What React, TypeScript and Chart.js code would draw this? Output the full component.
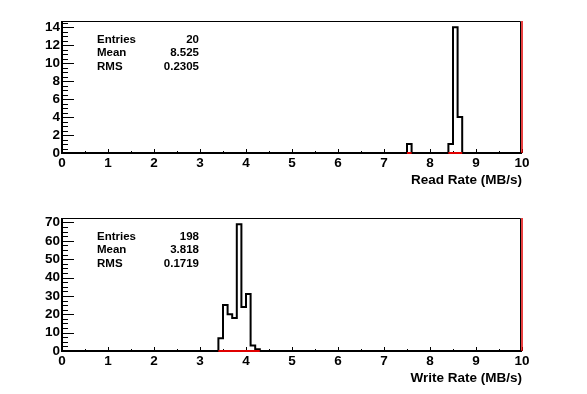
import React, { useEffect, useRef } from "react";
import { Chart, registerables } from "chart.js";

Chart.register(...registerables);

// ---------------- data ----------------
const binWidth = 0.1;
const xMin = 0;
const xMax = 10;
const xTicks = [0, 1, 2, 3, 4, 5, 6, 7, 8, 9, 10];

const readBinLow = [7.5, 8.4, 8.5, 8.6];
const readCounts = [1, 1, 14, 4];
const readYMax = 14.7;
const readYTicks = [0, 2, 4, 6, 8, 10, 12, 14];
const readStatLabels = ["Entries", "Mean", "RMS"];
const readStatValues = ["20", "8.525", "0.2305"];
const readTitle = "Read Rate (MB/s)";

const writeBinLow = [3.4, 3.5, 3.6, 3.7, 3.8, 3.9, 4.0, 4.1, 4.2];
const writeCounts = [7, 25, 20, 18, 69, 24, 31, 3, 1];
const writeYMax = 72.45;
const writeYTicks = [0, 10, 20, 30, 40, 50, 60, 70];
const writeStatLabels = ["Entries", "Mean", "RMS"];
const writeStatValues = ["198", "3.818", "0.1719"];
const writeTitle = "Write Rate (MB/s)";

const FONT = "'Liberation Sans', Arial, Helvetica, sans-serif";

function outline(lows: number[], counts: number[]) {
  const pts: { x: number; y: number }[] = [{ x: xMin, y: 0 }];
  let prevHi = xMin;
  lows.forEach((lo, i) => {
    if (Math.abs(lo - prevHi) > 1e-9) pts.push({ x: prevHi, y: 0 });
    pts.push({ x: lo, y: counts[i] });
    prevHi = lo + binWidth;
  });
  pts.push({ x: prevHi, y: 0 });
  pts.push({ x: xMax, y: 0 });
  return pts;
}

function redBase(lows: number[]) {
  const pts: { x: number; y: number | null }[] = [];
  lows.forEach((lo) => {
    pts.push({ x: lo, y: 0 });
    pts.push({ x: lo + binWidth, y: 0 });
    pts.push({ x: lo + binWidth, y: null });
  });
  return pts;
}

const framePlugin = {
  id: "rootFrame",
  beforeDatasetsDraw(chart: any) {
    const { ctx, chartArea: a, scales } = chart;
    const xs = scales.x;
    const ys = scales.y;
    ctx.save();
    ctx.strokeStyle = "#000";
    // top + right frame
    ctx.lineWidth = 1;
    ctx.beginPath();
    ctx.moveTo(a.left, a.top + 0.5);
    ctx.lineTo(a.right - 1.5, a.top + 0.5);
    ctx.lineTo(a.right - 1.5, a.bottom);
    ctx.stroke();
    // axes
    ctx.lineWidth = 2;
    ctx.beginPath();
    ctx.moveTo(a.left, a.top);
    ctx.lineTo(a.left, a.bottom);
    ctx.lineTo(a.right, a.bottom);
    ctx.stroke();
    // x ticks (inside)
    ctx.lineWidth = 1;
    ctx.beginPath();
    const xticks = xs.ticks.map((t: any) => t.value);
    for (let i = 0; i < xticks.length; i++) {
      const px = Math.round(xs.getPixelForValue(xticks[i])) + 0.5;
      ctx.moveTo(px, a.bottom);
      ctx.lineTo(px, a.bottom - 4);
      if (i < xticks.length - 1) {
        const mid = (xticks[i] + xticks[i + 1]) / 2;
        const pm = Math.round(xs.getPixelForValue(mid)) + 0.5;
        ctx.moveTo(pm, a.bottom);
        ctx.lineTo(pm, a.bottom - 2);
      }
    }
    // y ticks (inside)
    const yticks = ys.ticks.map((t: any) => t.value);
    const step = yticks.length > 1 ? yticks[1] - yticks[0] : 1;
    const minor = step / 4;
    for (let v = 0; v <= ys.max + 1e-9; v += minor) {
      const py = Math.round(ys.getPixelForValue(v)) + 0.5;
      const isMajor = Math.abs(v / step - Math.round(v / step)) < 1e-6;
      ctx.moveTo(a.left, py);
      ctx.lineTo(a.left + (isMajor ? 12 : 6), py);
    }
    ctx.stroke();
    ctx.restore();
  },
  afterDraw(chart: any, _args: any, opts: any) {
    const { ctx } = chart;
    if (!opts || !opts.labels) return;
    ctx.save();
    ctx.fillStyle = "#000";
    ctx.font = `bold 11.5px ${FONT}`;
    ctx.textBaseline = "middle";
    opts.labels.forEach((lab: string, i: number) => {
      const y = opts.rows[i];
      ctx.textAlign = "left";
      ctx.fillText(lab, opts.left, y);
      ctx.textAlign = "right";
      ctx.fillText(opts.values[i], opts.right, y);
    });
    ctx.restore();
  },
};

function makeConfig(p: {
  lows: number[];
  counts: number[];
  yMax: number;
  yTicks: number[];
  title: string;
  labels: string[];
  values: string[];
  rows: number[];
  xHeight: number;
  titlePad: number;
}) {
  const tickFont = { family: FONT, weight: "bold" as const, size: 13.5 };
  return {
    type: "line" as const,
    data: {
      datasets: [
        {
          data: redBase(p.lows),
          borderColor: "#e00000",
          borderWidth: 2,
          pointRadius: 0,
          spanGaps: false,
          clip: false as any,
          order: 1,
        },
        {
          data: [
            { x: xMax, y: 0 },
            { x: xMax, y: p.yMax },
          ],
          borderColor: "#e00000",
          borderWidth: 1.5,
          pointRadius: 0,
          clip: false as any,
          order: 2,
        },
        {
          data: outline(p.lows, p.counts),
          borderColor: "#000",
          borderWidth: 2,
          stepped: true,
          pointRadius: 0,
          fill: false,
          clip: false as any,
          order: 3,
        },
      ],
    },
    options: {
      responsive: false,
      animation: false as const,
      devicePixelRatio: 1,
      layout: { padding: { left: 0, right: 65, top: 21, bottom: 0 } },
      plugins: {
        legend: { display: false },
        tooltip: { enabled: false },
        rootFrame: { labels: p.labels, values: p.values, rows: p.rows, left: 97, right: 199 },
      },
      scales: {
        x: {
          type: "linear" as const,
          min: xMin,
          max: xMax,
          position: "bottom" as const,
          ticks: {
            font: tickFont,
            color: "#000",
            padding: 2,
            maxRotation: 0,
            autoSkip: false,
          },
          afterBuildTicks(s: any) {
            s.ticks = xTicks.map((v) => ({ value: v }));
          },
          grid: { display: false, drawTicks: false },
          border: { display: false },
          title: {
            display: true,
            text: p.title,
            align: "end" as const,
            color: "#000",
            font: { family: FONT, weight: "bold" as const, size: 13.5 },
            padding: { top: 0, bottom: p.titlePad },
          },
          afterFit(s: any) {
            s.height = p.xHeight;
          },
        },
        y: {
          type: "linear" as const,
          min: 0,
          max: p.yMax,
          ticks: {
            font: tickFont,
            color: "#000",
            padding: 2,
            autoSkip: false,
          },
          afterBuildTicks(s: any) {
            s.ticks = p.yTicks.map((v) => ({ value: v }));
          },
          grid: { display: false, drawTicks: false },
          border: { display: false },
          afterFit(s: any) {
            s.width = 62;
          },
        },
      },
    },
    plugins: [framePlugin],
  };
}

function Hist(props: { cfg: any; top: number }) {
  const ref = useRef<HTMLCanvasElement | null>(null);
  useEffect(() => {
    if (!ref.current) return;
    const chart = new Chart(ref.current, props.cfg);
    return () => chart.destroy();
  }, []);
  return (
    <canvas
      ref={ref}
      width={587}
      height={197}
      style={{ position: "absolute", left: 0, top: props.top, width: 587, height: 197, display: "block" }}
    />
  );
}

export default function App() {
  const readCfg = makeConfig({
    lows: readBinLow,
    counts: readCounts,
    yMax: readYMax,
    yTicks: readYTicks,
    title: readTitle,
    labels: readStatLabels,
    values: readStatValues,
    rows: [39.5, 53, 66.5],
    xHeight: 44,
    titlePad: 9,
  });
  const writeCfg = makeConfig({
    lows: writeBinLow,
    counts: writeCounts,
    yMax: writeYMax,
    yTicks: writeYTicks,
    title: writeTitle,
    labels: writeStatLabels,
    values: writeStatValues,
    rows: [39.5, 53, 66.5],
    xHeight: 43,
    titlePad: 8,
  });
  return (
    <div style={{ position: "absolute", left: 0, top: 0, width: 587, height: 394, background: "#fff" }}>
      <Hist cfg={readCfg} top={0} />
      <Hist cfg={writeCfg} top={197} />
    </div>
  );
}
